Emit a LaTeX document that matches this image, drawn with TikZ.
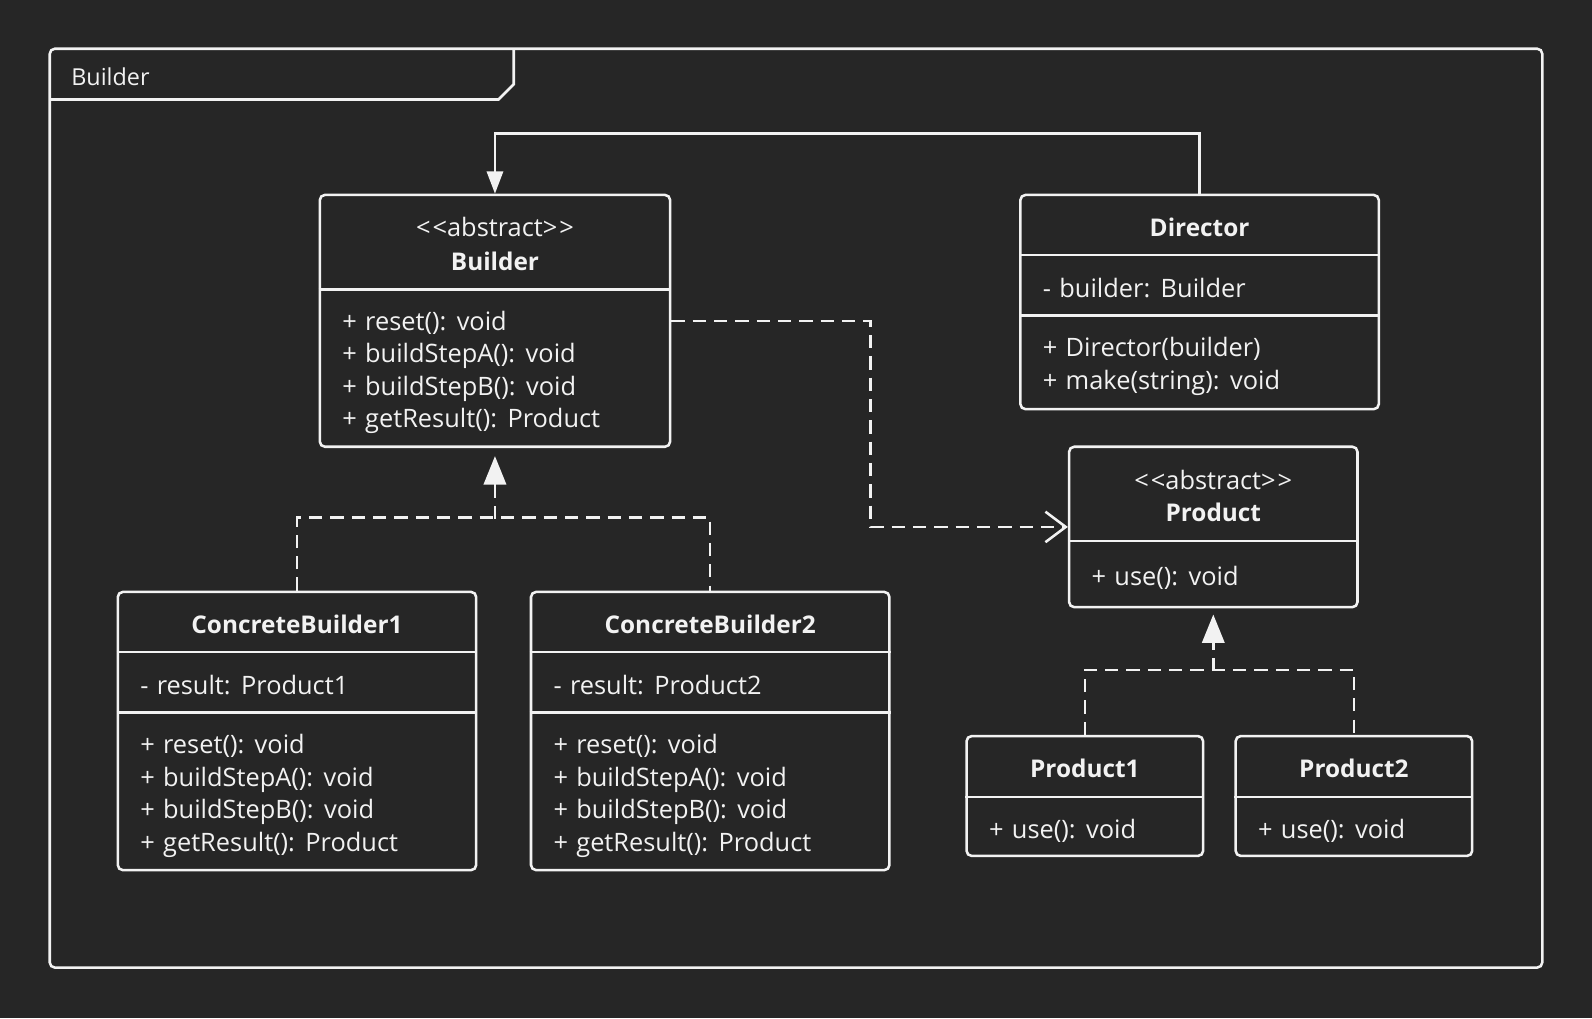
\documentclass[tikz,border=0pt]{standalone}
\usepackage{fontspec}
\setmainfont[WordSpace=1.25]{Open Sans}
\usetikzlibrary{arrows.meta,positioning}
\definecolor{bg}{HTML}{262626}
\definecolor{ink}{HTML}{F2F2F2}
\newcommand{\abstr}{\textless\kern2pt\textless abstract\textgreater\kern2pt\textgreater}

\begin{document}
\begin{tikzpicture}[x=1pt, y=-1pt, line width=2.5pt, color=ink,
  font=\fontsize{25}{32}\selectfont,
  umlbox/.style={draw, rounded corners=5pt, inner sep=0pt},
  member/.style={anchor=west, align=left, inner sep=0pt},
  title/.style={inner sep=0pt, font=\fontsize{24}{32}\selectfont\bfseries},
  stereo/.style={inner sep=0pt},
  dashline/.style={dash pattern=on 13pt off 8pt},
  realize/.style={dashline, -{Triangle[length=28pt,width=22pt]}},
  assoc/.style={-{Triangle[length=22pt,width=16pt]}},
  depend/.style={dashline, -{Straight Barb[length=20pt,width=30pt]}}]
\fill[bg] (0,0) rectangle (1568,1003);
\useasboundingbox (0,0) rectangle (1568,1003);

% Frame
\draw[rounded corners=5pt] (49,48) rectangle (1519,953);
\draw (49,98) -- (491,98) -- (506,83) -- (506,48);
\node[anchor=west, inner sep=0pt, font=\fontsize{23}{32}\selectfont] (frametitle) at (69,76) {Builder};

% Builder
\node[umlbox, minimum width=345pt, minimum height=248pt] (Builder) at (487.5,316) {};
\draw (Builder.west |- 0,285) -- (Builder.east |- 0,285);
\node[stereo] (Builderstereo) at (487.5,224) {\abstr};
\node[title] (Buildername) at (487.5,257) {Builder};
\node[member] (Buildermeth) at (336,367) {+ reset(): void\\+ buildStepA(): void\\+ buildStepB(): void\\+ getResult(): Product};

% Director
\node[umlbox, minimum width=353pt, minimum height=211pt] (Director) at (1181.5,297.5) {};
\draw (Director.west |- 0,251) -- (Director.east |- 0,251);
\draw (Director.west |- 0,311) -- (Director.east |- 0,311);
\node[title] (Directorname) at (1181.5,224) {Director};
\node[member] (Directorattr) at (1026,284) {- builder: Builder};
\node[member] (Directormeth) at (1026,361) {+ Director(builder)\\+ make(string): void};

% Product
\node[umlbox, minimum width=284pt, minimum height=158pt] (Product) at (1195,519) {};
\draw (Product.west |- 0,533) -- (Product.east |- 0,533);
\node[stereo] (Productstereo) at (1195,473) {\abstr};
\node[title] (Productname) at (1195,505) {Product};
\node[member] (Productmeth) at (1074,569) {+ use(): void};

% Concrete builders
\node[umlbox, minimum width=353pt, minimum height=274pt] (CB1) at (292.5,720) {};
\draw (CB1.west |- 0,642) -- (CB1.east |- 0,642);
\draw (CB1.west |- 0,702) -- (CB1.east |- 0,702);
\node[title] (CB1name) at (292.5,615) {ConcreteBuilder1};
\node[member] (CB1attr) at (137,675) {- result: Product1};
\node[member] (CB1meth) at (137,784) {+ reset(): void\\+ buildStepA(): void\\+ buildStepB(): void\\+ getResult(): Product};

\node[umlbox, minimum width=353pt, minimum height=274pt] (CB2) at (699.5,720) {};
\draw (CB2.west |- 0,642) -- (CB2.east |- 0,642);
\draw (CB2.west |- 0,702) -- (CB2.east |- 0,702);
\node[title] (CB2name) at (699.5,615) {ConcreteBuilder2};
\node[member] (CB2attr) at (544,675) {- result: Product2};
\node[member] (CB2meth) at (544,784) {+ reset(): void\\+ buildStepA(): void\\+ buildStepB(): void\\+ getResult(): Product};

% Concrete products
\node[umlbox, minimum width=233pt, minimum height=118pt] (P1) at (1068.5,784) {};
\draw (P1.west |- 0,785) -- (P1.east |- 0,785);
\node[title] (P1name) at (1068.5,757) {Product1};
\node[member] (P1meth) at (973,818) {+ use(): void};

\node[umlbox, minimum width=233pt, minimum height=118pt] (P2) at (1333.5,784) {};
\draw (P2.west |- 0,785) -- (P2.east |- 0,785);
\node[title] (P2name) at (1333.5,757) {Product2};
\node[member] (P2meth) at (1238,818) {+ use(): void};

% Connections
\draw[assoc] (Director.north) -- ++(0,-59) -| (Builder.north);
\draw[depend] (Builder.east) -- ++(196,0) |- (Product.west);

\coordinate (cbjoin) at (487.5,511);
\draw[dashline] (CB1.north) -- ++(0,-72) -| (CB2.north);
\draw[realize, shorten >=8pt] (cbjoin) -- (Builder.south);

\coordinate (pjoin) at (1195,661);
\draw[dashline] (P1.north) -- ++(0,-64) -| (P2.north);
\draw[realize, shorten >=6pt] (pjoin) -- (Product.south);
\end{tikzpicture}
\end{document}
